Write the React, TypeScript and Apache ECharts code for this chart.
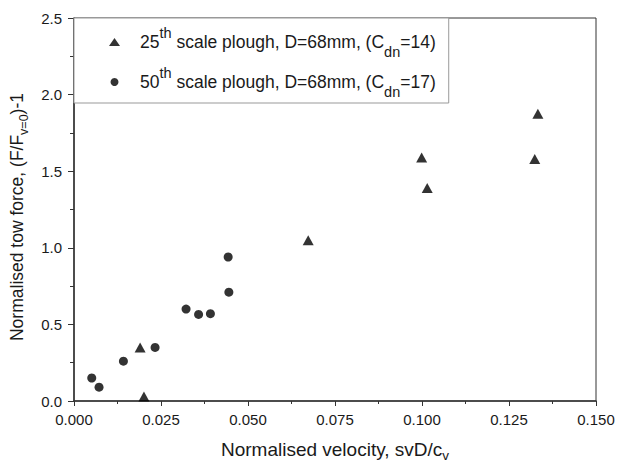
import React, { useEffect, useRef } from "react";
import * as echarts from "echarts";

const triX = [0.0201, 0.019, 0.0673, 0.0999, 0.1015, 0.1324, 0.1333];
const triY = [0.03, 0.35, 1.05, 1.59, 1.39, 1.58, 1.875];
const cirX = [0.0051, 0.0072, 0.0142, 0.0233, 0.0322, 0.0358, 0.0392, 0.0443, 0.0445];
const cirY = [0.15, 0.09, 0.26, 0.35, 0.6, 0.565, 0.57, 0.94, 0.71];

const xTicks = [0, 0.025, 0.05, 0.075, 0.1, 0.125, 0.15];
const yTicks = [0, 0.5, 1.0, 1.5, 2.0, 2.5];

const legendLabels: Record<string, string[]> = {
  s25: ["25", "th", " scale plough, D=68mm, (C", "dn", "=14)"],
  s50: ["50", "th", " scale plough, D=68mm, (C", "dn", "=17)"],
};

const FONT = "'Liberation Sans', Arial, Helvetica, sans-serif";
const TXT = "#1a1a1a";
const AX = "#333";

export default function App() {
  const ref = useRef<HTMLDivElement>(null);
  useEffect(() => {
    document.body.style.margin = "0";
    if (!ref.current) return;
    const chart = echarts.init(ref.current, null, { renderer: "svg" });
    const pair = (xs: number[], ys: number[]) => xs.map((x, i) => [x, ys[i]]);
    chart.setOption({
      animation: false,
      backgroundColor: "#fff",
      textStyle: { fontFamily: FONT },
      grid: {
        left: 74,
        right: 21,
        top: 18,
        bottom: 62,
        outerBoundsMode: "none",
        containLabel: false,
        show: true,
        borderColor: AX,
        borderWidth: 1,
      },
      legend: {
        orient: "vertical",
        left: 74,
        top: 18,
        itemGap: 6,
        itemWidth: 11,
        itemHeight: 8,
        padding: [7, 13, 4, 35],
        borderColor: "#999",
        borderWidth: 1,
        backgroundColor: "#fff",
        selectedMode: false,
        data: [
          { name: "s25", icon: "triangle" },
          { name: "s50", icon: "circle" },
        ],
        formatter: (name: string) => {
          const p = legendLabels[name];
          return `{gap| }{a|${p[0]}}{sup|${p[1]}}{a|${p[2]}}{sub|${p[3]}}{a|${p[4]}}`;
        },
        textStyle: {
          color: TXT,
          fontFamily: FONT,
          fontSize: 17.5,
          rich: {
            gap: { width: 15, fontSize: 17.5, lineHeight: 34 },
            a: { fontSize: 17.5, lineHeight: 34, verticalAlign: "middle", color: TXT, fontFamily: FONT },
            sup: { fontSize: 14.5, lineHeight: 14, verticalAlign: "top", color: TXT, fontFamily: FONT },
            sub: { fontSize: 14.5, lineHeight: 18, verticalAlign: "bottom", color: TXT, fontFamily: FONT },
          },
        },
      },
      xAxis: {
        type: "value",
        min: xTicks[0],
        max: xTicks[xTicks.length - 1],
        interval: 0.025,
        name: "{a|Normalised velocity, svD/c}{sub|v}",
        nameLocation: "middle",
        nameGap: 35,
        nameTextStyle: {
          rich: {
            a: { fontSize: 19, lineHeight: 26, verticalAlign: "middle", color: TXT, fontFamily: FONT },
            sub: { fontSize: 13.5, lineHeight: 14, verticalAlign: "bottom", color: TXT, fontFamily: FONT },
          },
        },
        axisLine: { onZero: false, lineStyle: { color: AX, width: 1.5 } },
        axisTick: { show: true, inside: false, length: 5, lineStyle: { color: AX } },
        minorTick: { show: true, splitNumber: 2, length: 3, lineStyle: { color: AX } },
        splitLine: { show: false },
        axisLabel: {
          color: TXT,
          fontSize: 15,
          fontFamily: FONT,
          margin: 11,
          formatter: (v: number) => v.toFixed(3),
        },
      },
      yAxis: {
        type: "value",
        min: yTicks[0],
        max: yTicks[yTicks.length - 1],
        interval: 0.5,
        name: "{a|Normalised tow force, (F/F}{sub|v=0}{a|)-1}{g| }",
        nameLocation: "middle",
        nameGap: 43,
        nameRotate: 90,
        nameTextStyle: {
          rich: {
            a: { fontSize: 17.5, lineHeight: 26, verticalAlign: "middle", color: TXT, fontFamily: FONT },
            sub: { fontSize: 12.5, lineHeight: 14, verticalAlign: "bottom", color: TXT, fontFamily: FONT },
            g: { width: 15, fontSize: 17.5, lineHeight: 26 },
          },
        },
        axisLine: { onZero: false, lineStyle: { color: AX, width: 1.5 } },
        axisTick: { show: true, inside: false, length: 6, lineStyle: { color: AX } },
        minorTick: { show: true, splitNumber: 2, length: 4, lineStyle: { color: AX } },
        splitLine: { show: false },
        axisLabel: {
          color: TXT,
          fontSize: 15,
          fontFamily: FONT,
          margin: 12,
          formatter: (v: number) => v.toFixed(1),
        },
      },
      series: [
        {
          name: "s25",
          type: "scatter",
          symbol: "triangle",
          symbolSize: [11, 10],
          itemStyle: { color: "#000" },
          data: pair(triX, triY),
        },
        {
          name: "s50",
          type: "scatter",
          symbol: "circle",
          symbolSize: 9,
          itemStyle: { color: "#000" },
          data: pair(cirX, cirY),
        },
      ],
    });
    return () => chart.dispose();
  }, []);
  return <div ref={ref} style={{ width: 617, height: 463 }} />;
}
